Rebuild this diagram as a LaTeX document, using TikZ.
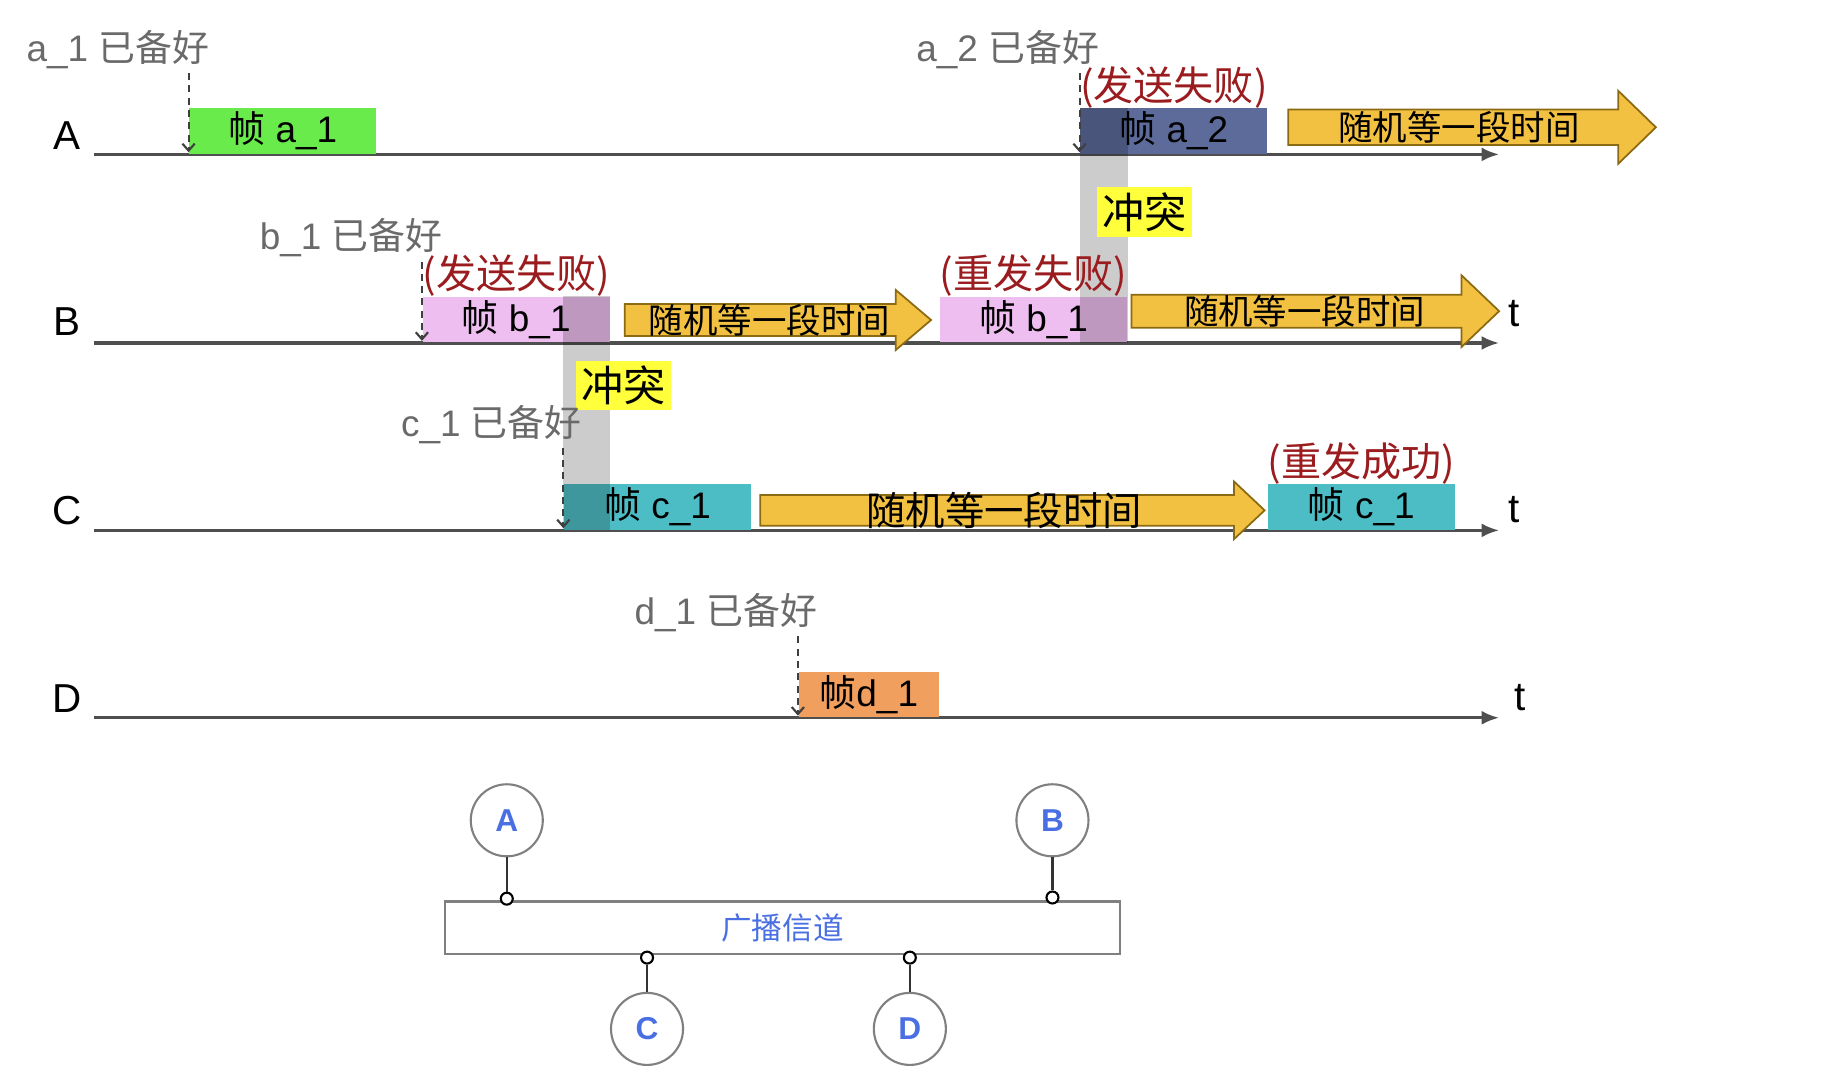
\documentclass[tikz,border=0pt]{standalone}
\usepackage{fontspec}
\setmainfont{Liberation Sans}
\newfontfamily\cjk{Noto Sans CJK SC}
\usetikzlibrary{positioning,arrows.meta}

\definecolor{lineGray}{HTML}{4F4F4F}
\definecolor{readyGray}{HTML}{6A6A6A}
\definecolor{failRed}{HTML}{9B1C1F}
\definecolor{frameGreen}{HTML}{69EB4B}
\definecolor{frameSlate}{HTML}{5D6B9B}
\definecolor{framePink}{HTML}{EFBEF1}
\definecolor{frameTeal}{HTML}{4DBDC5}
\definecolor{frameOrange}{HTML}{F09F5E}
\definecolor{waitGold}{HTML}{F3C142}
\definecolor{waitEdge}{HTML}{8C6A12}
\definecolor{clashYellow}{HTML}{FFFF3C}
\definecolor{busBlue}{HTML}{4A6FE3}

\begin{document}
\begin{tikzpicture}[x=0.011786cm,y=-0.011786cm,
	timeline/.style={draw=lineGray,line width=0.9pt,-{Latex[length=5pt,width=4pt]}},
	ready/.style={text=readyGray,inner sep=1pt,font=\fontsize{10.5}{12}\selectfont},
	readyarrow/.style={draw=lineGray!80!black,line width=0.6pt,dash pattern=on 2pt off 1.5pt,shorten >=0.6pt,-{Straight Barb[length=2pt,width=3.5pt]}},
	frame/.style={anchor=south west,minimum width=1.87cm,minimum height=0.454cm,inner sep=0pt,font=\fontsize{10.5}{12}\selectfont},
	note/.style={text=failRed,inner sep=0.5pt,font=\cjk\fontsize{11.4}{13}\selectfont},
	band/.style={fill=black,opacity=0.2},
	clash/.style={fill=clashYellow,inner sep=1.5pt,font=\cjk\fontsize{12}{13}\selectfont},
	wait/.style={fill=waitGold,draw=waitEdge,line width=0.5pt},
	waittext/.style={inner sep=0pt,font=\cjk\fontsize{9.8}{11}\selectfont},
	rowlabel/.style={font=\fontsize{11.5}{12}\selectfont},
	bus/.style={draw=gray,line width=0.6pt,minimum width=6.74cm,minimum height=0.47cm,text=busBlue,font=\cjk\fontsize{8.7}{10}\selectfont},
	station/.style={circle,draw=gray,line width=0.6pt,minimum size=0.72cm,inner sep=0pt,text=busBlue,font=\fontsize{9}{10}\selectfont\bfseries},
	port/.style={circle,draw=black,line width=0.6pt,fill=white,minimum size=3.4pt,inner sep=0pt},
	stub/.style={draw=black!80,line width=0.7pt}]
	\useasboundingbox (0,0) rectangle (1568,913);

	%time axes
	\node[rowlabel] (labA) at (57,115) {A};
	\node[rowlabel] (labB) at (57,273) {B};
	\node[rowlabel] (labC) at (57,433) {C};
	\node[rowlabel] (labD) at (57,593) {D};
	\coordinate (A0) at (80,131); \coordinate (A1) at (1272,131);
	\coordinate (B0) at (80,291); \coordinate (B1) at (1272,291);
	\coordinate (C0) at (80,450); \coordinate (C1) at (1272,450);
	\coordinate (D0) at (80,609); \coordinate (D1) at (1272,609);
	\draw[timeline] (A0) -- (A1);
	\draw[timeline] (B0) -- (B1);
	\draw[timeline] (C0) -- (C1);
	\draw[timeline] (D0) -- (D1);
	\node[rowlabel] (tB) at (1285,266) {t};
	\node[rowlabel] (tC) at (1285,432) {t};
	\node[rowlabel] (tD) at (1290,592) {t};

	%frames
	\node[frame,fill=frameGreen] (fa1) at (160,131) {{\cjk 帧} a\_1};
	\node[frame,fill=frameSlate] (fa2) at (916,131) {{\cjk 帧} a\_2};
	\node[frame,fill=framePink] (fb1) at (358,291) {{\cjk 帧} b\_1};
	\node[frame,fill=framePink] (fb2) at (797,291) {{\cjk 帧} b\_1};
	\node[frame,fill=frameTeal] (fc1) at (478,450) {{\cjk 帧} c\_1};
	\node[frame,fill=frameTeal] (fc2) at (1075,450) {{\cjk 帧} c\_1};
	\node[frame,fill=frameOrange,minimum width=1.403cm] (fd1) at (677,609) {{\cjk 帧}d\_1};

	%collisions
	\fill[band] (fa2.north west) rectangle (fb2.south east); %A-B
	\fill[band] (fc1.west |- fb1.north) rectangle (fb1.east |- fc1.south); %B-C
	\node[clash] (clashAB) at (971,180) {冲突};
	\node[clash] (clashBC) at (529,327) {冲突};

	%results
	\node[note,above=-0.3mm of fa2] (nA2) {(发送失败)};
	\node[note,above=-0.3mm of fb1] (nB1) {(发送失败)};
	\node[note,above=-0.3mm of fb2] (nB2) {(重发失败)};
	\node[note,above=-0.3mm of fc2] (nC2) {(重发成功)};

	%ready marks
	\node[ready] (rA1) at (100,42) {a\_1 {\cjk 已备好}};
	\node[ready] (rA2) at (855,42) {a\_2 {\cjk 已备好}};
	\node[ready] (rB1) at (298,202) {b\_1 {\cjk 已备好}};
	\node[ready] (rC1) at (417,360) {c\_1 {\cjk 已备好}};
	\node[ready] (rD1) at (616,520) {d\_1 {\cjk 已备好}};
	\draw[readyarrow] (rA1.south -| fa1.west) -- (fa1.south west);
	\draw[readyarrow] (rA2.south -| fa2.west) -- (fa2.south west);
	\draw[readyarrow] (rB1.south -| fb1.west) -- (fb1.south west);
	\draw[readyarrow] (rC1.south -| fc1.west) -- (fc1.south west);
	\draw[readyarrow] (rD1.south -| fd1.west) -- (fd1.south west);

	%random backoff
	\draw[wait] (1093,93) -- (1373,93) -- (1373,77) -- (1405,108) -- (1373,139) -- (1373,123) -- (1093,123) -- cycle; %A
	\draw[wait] (530,258) -- (760,258) -- (760,246) -- (790,271.5) -- (760,297) -- (760,285) -- (530,285) -- cycle; %B first
	\draw[wait] (960,250) -- (1240,250) -- (1240,233.5) -- (1272,264) -- (1240,294.5) -- (1240,278) -- (960,278) -- cycle; %B second
	\draw[wait] (645,420) -- (1047,420) -- (1047,408.5) -- (1073,433) -- (1047,457.5) -- (1047,446) -- (645,446) -- cycle; %C
	\node[waittext] (wA) at (1238,108) {随机等一段时间};
	\node[waittext] (wB1) at (653,271.5) {随机等一段时间};
	\node[waittext] (wB2) at (1107,264) {随机等一段时间};
	\node[waittext,font=\cjk\fontsize{11.2}{12}\selectfont] (wC) at (852,433) {随机等一段时间};

	%broadcast channel
	\node[bus] (bus) at (664,787) {广播信道};
	\node[station] (stA) at (430,696) {A};
	\node[station] (stB) at (893,696) {B};
	\node[station] (stC) at (549,873) {C};
	\node[station] (stD) at (772,873) {D};
	\node[port] (pA) at (430,762.5) {};
	\node[port] (pB) at (893,761.5) {};
	\node[port] (pC) at (549,812.5) {};
	\node[port] (pD) at (772,812.5) {};
	\draw[stub] (stA) -- (pA);
	\draw[stub] (stB) -- (pB);
	\draw[stub] (stC) -- (pC);
	\draw[stub] (stD) -- (pD);
\end{tikzpicture}
\end{document}
